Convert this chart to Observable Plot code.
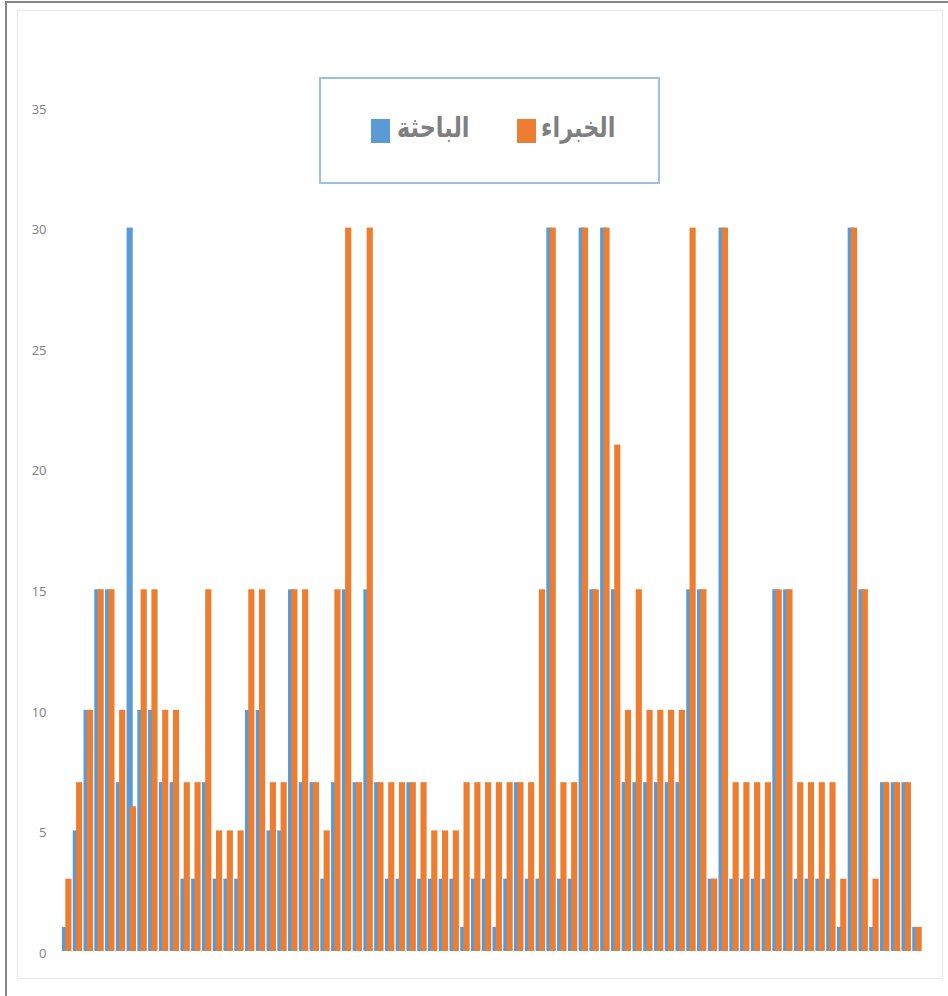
<!DOCTYPE html>
<html>
<head>
<meta charset="utf-8">
<script src="https://cdn.jsdelivr.net/npm/d3@7"></script>
<script src="https://cdn.jsdelivr.net/npm/@observablehq/plot@0.6"></script>
<style>
  body { margin: 0; background: #fff; }
  #wrap { position: relative; width: 948px; height: 996px; overflow: hidden; background: #fff; }
  .outer { position: absolute; left: 5px; top: 1px; width: 945px; height: 997px; border-left: 2px solid #858585; border-top: 2px solid #858585; box-sizing: border-box; }
  .inner { position: absolute; left: 17px; top: 10px; width: 926px; height: 969px; border: 1px solid #e9e9e9; box-sizing: border-box; }
  #chart { position: absolute; left: 0; top: 0; }
  #legend { position: absolute; left: 319px; top: 77px; width: 341px; height: 107px; border: 2px solid #9cbfe6; box-sizing: border-box; background: #fff; }
  .sw { position: absolute; top: 40px; width: 19px; height: 24px; }
  .lt { position: absolute; top: 28px; font-family: "DejaVu Sans", sans-serif; font-weight: bold; font-size: 28px; color: #7f7f7f; direction: rtl; white-space: nowrap; line-height: 42px; transform: scaleX(0.8); transform-origin: 0 50%; }
</style>
</head>
<body>
<div id="wrap">
  <div class="outer"></div>
  <div class="inner"></div>
  <div id="chart"></div>
  <div id="legend"></div>
</div>
<script>
const researcherLabel = "الباحثة";
const expertsLabel = "الخبراء";
const researcherColor = "#5B9BD5";
const expertsColor = "#ED7D31";

// values per item (1..80)
const researcher = [
  1, 5, 10, 15, 15, 7, 30, 10, 10, 7,
  7, 3, 3, 7, 3, 3, 3, 10, 10, 5,
  5, 15, 7, 7, 3, 7, 15, 7, 15, 7,
  3, 3, 7, 3, 3, 3, 3, 1, 3, 3,
  1, 3, 7, 3, 3, 30, 3, 3, 30, 15,
  30, 15, 7, 7, 7, 7, 7, 7, 15, 15,
  3, 30, 3, 3, 3, 3, 15, 15, 3, 3,
  3, 3, 1, 30, 15, 1, 7, 7, 7, 1
];
const experts = [
  3, 7, 10, 15, 15, 10, 6, 15, 15, 10,
  10, 7, 7, 15, 5, 5, 5, 15, 15, 7,
  7, 15, 15, 7, 5, 15, 30, 7, 30, 7,
  7, 7, 7, 7, 5, 5, 5, 7, 7, 7,
  7, 7, 7, 7, 15, 30, 7, 7, 30, 15,
  30, 21, 10, 15, 10, 10, 10, 10, 30, 15,
  3, 30, 7, 7, 7, 7, 15, 15, 7, 7,
  7, 7, 3, 30, 15, 3, 7, 7, 7, 1
];
const yTicks = [0, 5, 10, 15, 20, 25, 30, 35];
const items = d3.range(1, researcher.length + 1);

const researcherData = items.map((g, i) => ({ g, v: researcher[i] }));
const expertsData = items.map((g, i) => ({ g, v: experts[i] }));

const chart = Plot.plot({
  width: 948,
  height: 996,
  marginTop: 107,
  marginBottom: 45,
  marginLeft: 62,
  marginRight: 25,
  style: { fontFamily: "'Open Sans', sans-serif", fontSize: "13px", color: "#808080", background: "transparent" },
  x: { type: "band", domain: items, padding: 0, axis: null, label: null },
  y: { domain: [0, 35], axis: null, label: null },
  marks: [
    Plot.barY(researcherData, { x: "g", y: "v", fill: researcherColor, insetLeft: 0, insetRight: 4.6 }),
    Plot.barY(expertsData, { x: "g", y: "v", fill: expertsColor, insetLeft: 3.3, insetRight: 1.3 }),
    Plot.axisY({ ticks: yTicks, tickSize: 0, tickPadding: 16, fontSize: 13, dy: 2, label: null })
  ]
});
document.getElementById("chart").appendChild(chart);

// legend
const legend = document.getElementById("legend");
const entries = [
  { label: researcherLabel, color: researcherColor, swLeft: 50, textLeft: 76 },
  { label: expertsLabel, color: expertsColor, swLeft: 196, textLeft: 220 }
];
for (const e of entries) {
  const sw = document.createElement("div");
  sw.className = "sw";
  sw.style.left = e.swLeft + "px";
  sw.style.background = e.color;
  legend.appendChild(sw);
  const t = document.createElement("div");
  t.className = "lt";
  t.style.left = e.textLeft + "px";
  t.textContent = e.label;
  legend.appendChild(t);
}
</script>
</body>
</html>
